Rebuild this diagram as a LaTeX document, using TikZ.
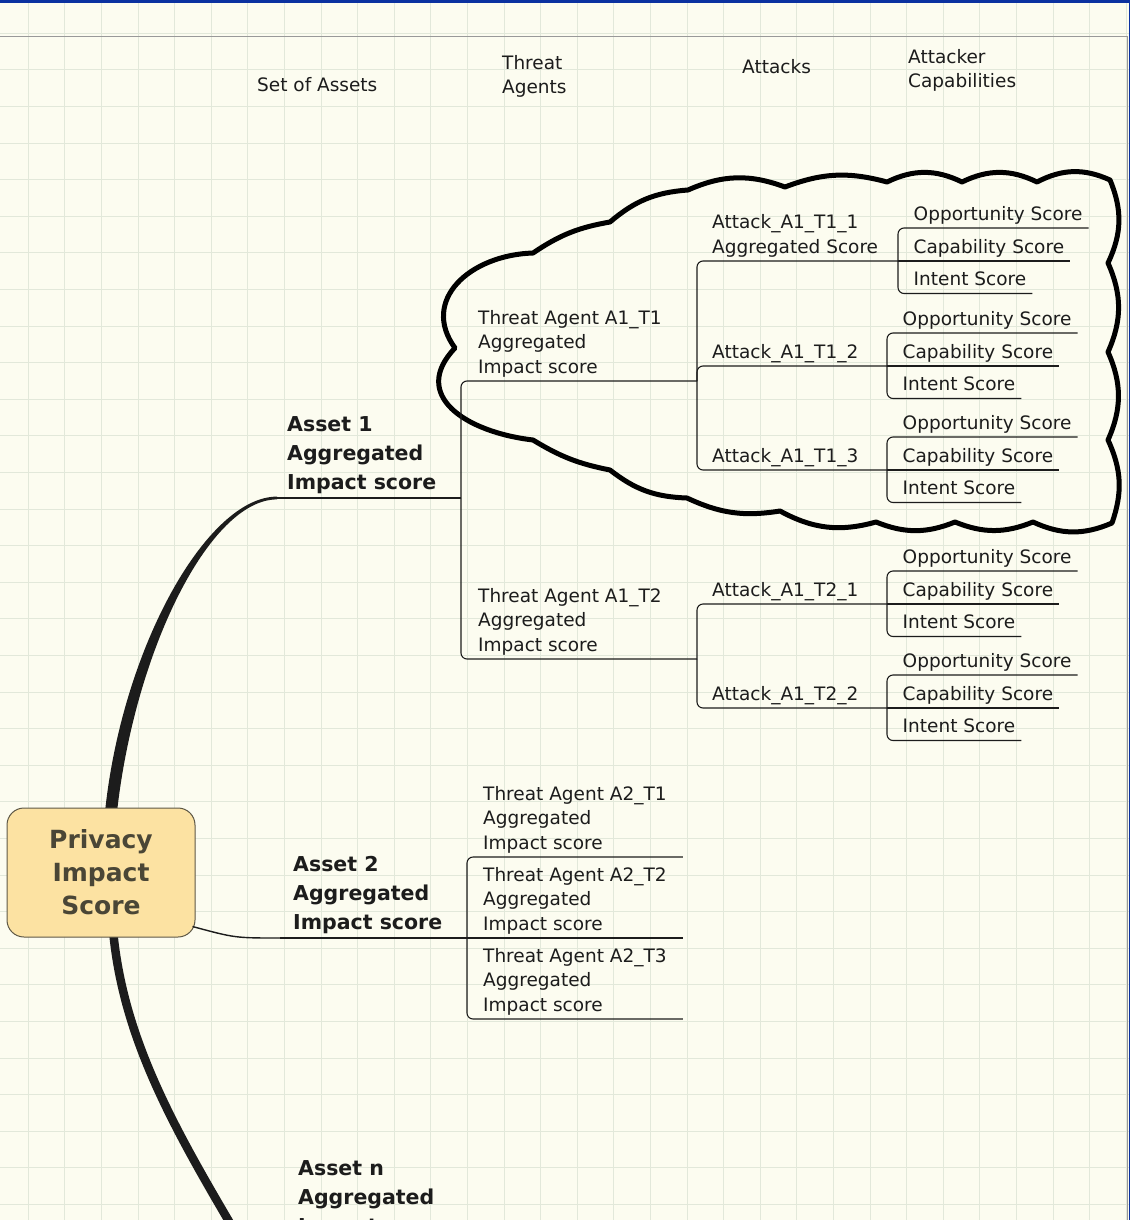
\documentclass[tikz,border=0pt]{standalone}
\usepackage{fontspec}
\setmainfont{DejaVu Sans}
\usepackage{tikz}
\usetikzlibrary{calc}
\definecolor{paper}{HTML}{FCFCF0}
\definecolor{gridcol}{HTML}{E2E8DA}
\definecolor{barblue}{HTML}{0B31A0}
\definecolor{rootfill}{HTML}{FCE2A2}
\definecolor{rootedge}{HTML}{5E5846}
\definecolor{roottext}{HTML}{4A4636}
\definecolor{ink}{HTML}{1C1C1C}
\newcommand{\labsize}{\fontsize{18.5}{24.5}\selectfont}
\newcommand{\assetsize}{\fontsize{20.5}{29}\selectfont\bfseries}
\newcommand{\rootsize}{\fontsize{25}{33}\selectfont\bfseries}

\begin{document}
\begin{tikzpicture}[x=1pt,y=-1pt,
    lab/.style={anchor=south west, inner sep=0pt, align=left, font=\labsize, text=ink, execute at end node=\strut},
    asset/.style={lab, font=\assetsize},
    head/.style={inner sep=0pt, align=left, font=\labsize, text=ink},
    rootbox/.style={draw=rootedge, fill=rootfill, line width=1pt, rounded corners=17pt, minimum width=188pt, minimum height=129pt, inner sep=0pt, align=center, font=\rootsize, text=roottext},
    link/.style={draw=ink, line width=1.1pt},
    fork/.style={link, rounded corners=6pt},
    cloudline/.style={draw=black, line width=5pt, line join=round},
    gridline/.style={draw=gridcol, line width=1.1pt}]

    \useasboundingbox (0,0) rectangle (1130,1220);
    \clip (0,0) rectangle (1130,1220);

    % paper and grid
    \fill[paper] (0,0) rectangle (1130,1220);
    \foreach \i in {0,...,31}
        \draw[gridline] ({-8.3+36.6*\i},0) -- ++(0,1220);
    \foreach \j in {0,...,34}
        \draw[gridline] (0,{-3.3+36.6*\j}) -- ++(1130,0);
    \draw[gray!80, line width=1pt] (0,37) -- (1127,37) -- (1127,1220);
    \fill[barblue] (0,0) rectangle (1130,3);
    \fill[barblue] (1128.5,0) rectangle (1130,1220);

    % column titles
    \node[head, anchor=base west] (hassets) at (257,92) {Set of Assets};
    \node[head, anchor=north west] (hagents) at (502,55) {Threat\\Agents};
    \node[head, anchor=base west] (hattacks) at (742,74) {Attacks};
    \node[head, anchor=north west] (hcapab) at (908,49) {Attacker\\Capabilities};

    % cloud round the first threat agent
    \draw[cloudline] (455,348)
        .. controls (420,300) and (470,255) .. (533,253)
        to[bend left=12] (610,222)
        to[bend left=18] (688,190)
        to[bend left=22] (785,187)
        to[bend left=18] (887,182)
        to[bend left=26] (962,182)
        to[bend left=26] (1037,182)
        to[bend left=26] (1110,180)
        to[bend left=24] (1108,263)
        to[bend left=24] (1108,352)
        to[bend left=24] (1108,440)
        to[bend left=22] (1112,523)
        to[bend left=24] (1033,522)
        to[bend left=22] (955,522)
        to[bend left=22] (876,522)
        to[bend left=22] (780,511)
        to[bend left=17] (687,498)
        to[bend left=18] (610,470)
        to[bend left=10] (533,440)
        .. controls (465,432) and (410,395) .. (455,348) -- cycle;

    % assets
    \node[asset] (a1) at (287,498) {Asset 1\\Aggregated\\Impact score};
    \node[asset] (a2) at (293,938) {Asset 2\\Aggregated\\Impact score};
    \node[asset] (an) at (298,1242) {Asset n\\Aggregated\\Impact score};
    \coordinate (a1in) at ($(a1.south west)+(-10,0)$);
    \coordinate (a2in) at ($(a2.south west)+(-13,0)$);
    \coordinate (a1br) at (461,498);
    \coordinate (a2br) at (467,938);

    % threat agents
    \node[lab] (ta11) at (478,381) {Threat Agent A1\_T1\\Aggregated\\Impact score};
    \node[lab] (ta12) at (478,659) {Threat Agent A1\_T2\\Aggregated\\Impact score};
    \node[lab] (ta21) at (483,857) {Threat Agent A2\_T1\\Aggregated\\Impact score};
    \node[lab] (ta22) at (483,938) {Threat Agent A2\_T2\\Aggregated\\Impact score};
    \node[lab] (ta23) at (483,1019) {Threat Agent A2\_T3\\Aggregated\\Impact score};
    \coordinate (ta11br) at (697,381);
    \coordinate (ta12br) at (697,659);

    % attacks
    \node[lab] (t111) at (712,261) {Attack\_A1\_T1\_1\\Aggregated Score};
    \node[lab] (t112) at (712,366) {Attack\_A1\_T1\_2};
    \node[lab] (t113) at (712,470) {Attack\_A1\_T1\_3};
    \node[lab] (t121) at (712,604) {Attack\_A1\_T2\_1};
    \node[lab] (t122) at (712,708) {Attack\_A1\_T2\_2};

    % attacker capabilities, one fork per attack
    \foreach \k/\b/\y in {111/898/261, 112/887/366, 113/887/470, 121/887/604, 122/887/708} {
        \coordinate (br\k) at (\b,\y);
        \node[lab] (o\k) at ({\b+15.5},{\y-33}) {Opportunity Score};
        \node[lab] (c\k) at ({\b+15.5},\y) {Capability Score};
        \node[lab] (i\k) at ({\b+15.5},{\y+32.5}) {Intent Score};
        \draw[fork] (br\k) |- ($(o\k.south east)+(6,0)$);
        \draw[link] (br\k) -- ($(c\k.south east)+(6,0)$);
        \draw[fork] (br\k) |- ($(i\k.south east)+(6,0)$);
    }

    % branches from the root
    \fill[ink] (105,812) .. controls (122,648) and (207,496.6) .. ([yshift=1.4pt]a1in)
        -- ([yshift=-1.4pt]a1in) .. controls (210,499.4) and (135,650) .. (117,812) -- cycle;
    \draw[ink, line width=8.5pt] (113,930) .. controls (123,1040) and (175,1130) .. (240,1240);
    \node[rootbox] (pis) at (101,872.5) {Privacy\\Impact\\Score};
    \draw[link, line width=1.4pt] ($(pis.south east)+(-3,-11)$) .. controls (235,938) .. (a2in);

    % underlines and forks
    \draw[link] (a1in) -- (a1br);
    \draw[link] (a2in) -- (a2br);
    \draw[fork] (a1br) |- (ta11br);
    \draw[fork] (a1br) |- (ta12br);
    \draw[fork] (a2br) |- ($(ta21.south east)+(16,0)$);
    \draw[link] (a2br) -- ($(ta22.south east)+(16,0)$);
    \draw[fork] (a2br) |- ($(ta23.south east)+(16,0)$);
    \draw[fork] (ta11br) |- (br111);
    \draw[fork] (ta11br) |- (br112);
    \draw[fork] (ta11br) |- (br113);
    \draw[fork] (ta12br) |- (br121);
    \draw[fork] (ta12br) |- (br122);
\end{tikzpicture}
\end{document}
